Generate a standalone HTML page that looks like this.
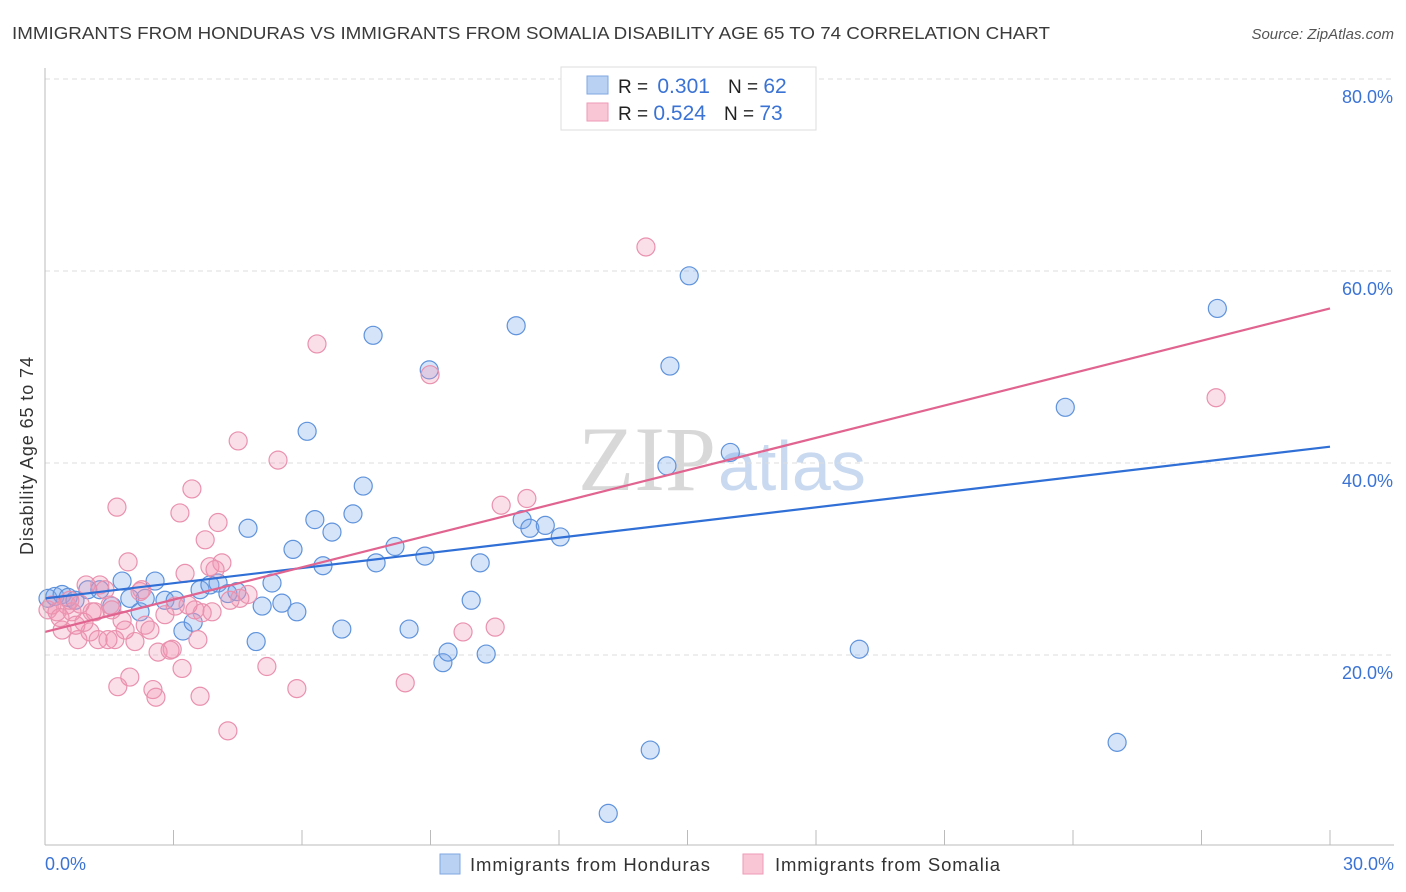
<!DOCTYPE html>
<html><head><meta charset="utf-8"><style>
body{margin:0;background:#fff;font-family:"Liberation Sans",sans-serif;}
#wrap{position:relative;width:1406px;height:892px;overflow:hidden;}
</style></head><body>
<div id="wrap">
<svg id="svg" width="1406" height="892" xmlns="http://www.w3.org/2000/svg">
<text x="12" y="39" font-size="17.5" fill="#3a3a3a" textLength="1038" lengthAdjust="spacingAndGlyphs">IMMIGRANTS FROM HONDURAS VS IMMIGRANTS FROM SOMALIA DISABILITY AGE 65 TO 74 CORRELATION CHART</text>
<text x="1394" y="39" font-size="15" fill="#555" text-anchor="end" font-style="italic">Source: ZipAtlas.com</text>
<text x="716" y="490" font-size="92" fill="#d8d8d8" text-anchor="end" font-family="Liberation Serif,serif">ZIP</text>
<text x="718" y="490" font-size="70" fill="#c9d9f0">atlas</text>
<text x="33" y="456" font-size="18" fill="#333" text-anchor="middle" transform="rotate(-90 33 456)" textLength="198">Disability Age 65 to 74</text>
<g id="grid"></g><g id="pts"></g><g id="lines"></g>
<line x1="45" y1="68" x2="45" y2="845" stroke="#bbb"/>
<line x1="45" y1="845" x2="1394" y2="845" stroke="#bbb"/>
<text x="45" y="870" font-size="18" fill="#3b73d4">0.0%</text>
<text x="1394" y="870" font-size="18" fill="#3b73d4" text-anchor="end">30.0%</text>
<g>
<rect x="561" y="67" width="255" height="63" fill="#fff" stroke="#ddd"/>
<rect x="587" y="76" width="21" height="18" fill="#b9d1f3" stroke="#7fa7e0"/>
<rect x="587" y="103" width="21" height="18" fill="#f9c6d6" stroke="#ee9ab6"/>
<text x="618" y="93" font-size="19" fill="#222">R = <tspan dx="4" fill="#3b73d4" font-size="21">0.301</tspan><tspan dx="18">N = </tspan><tspan fill="#3b73d4" font-size="21">62</tspan></text>
<text x="618" y="120" font-size="19" fill="#222">R = <tspan fill="#3b73d4" font-size="21">0.524</tspan><tspan dx="18">N = </tspan><tspan fill="#3b73d4" font-size="21">73</tspan></text>
</g>
<g>
<rect x="440" y="854" width="20" height="20" fill="#b9d1f3" stroke="#7fa7e0"/>
<text x="470" y="871" font-size="18.5" fill="#333" textLength="240">Immigrants from Honduras</text>
<rect x="743" y="854" width="20" height="20" fill="#f9c6d6" stroke="#ee9ab6"/>
<text x="775" y="871" font-size="18.5" fill="#333" textLength="225">Immigrants from Somalia</text>
</g>
</svg>
</div>
<script>
const blueX=[0.07,0.23,0.40,0.54,0.70,1.0,1.28,1.56,1.80,1.98,2.22,2.34,2.57,2.80,3.04,3.22,3.46,3.62,3.85,4.04,4.27,4.48,4.74,4.93,5.07,5.30,5.53,5.79,5.88,6.12,6.30,6.49,6.70,6.93,7.19,7.43,7.66,7.73,8.17,8.50,8.87,8.97,9.29,9.41,9.95,10.16,10.30,11.0,11.14,11.32,11.68,12.03,13.15,14.13,14.52,14.59,15.04,16.0,19.01,23.82,25.03,27.37];
const blueY=[25.9,26.1,26.3,26.0,25.7,26.8,26.8,25.1,27.7,25.9,24.5,25.9,27.7,25.7,25.7,22.5,23.4,26.8,27.3,27.5,26.4,26.6,33.2,21.4,25.1,27.5,25.4,31.0,24.5,43.3,34.1,29.3,32.8,22.7,34.7,37.6,53.3,29.6,31.3,22.7,30.3,49.7,19.2,20.3,25.7,29.6,20.1,54.3,34.1,33.2,33.5,32.3,3.5,10.1,39.7,50.1,59.5,41.1,20.6,45.8,10.9,56.1];
const pinkX=[0.07,0.16,0.28,0.40,0.51,0.63,0.77,0.82,0.96,1.05,1.17,1.28,1.40,1.52,1.63,1.68,1.70,1.80,1.94,1.98,2.10,2.22,2.34,2.45,2.52,2.59,2.64,2.80,2.97,3.04,3.15,3.20,3.27,3.43,3.50,3.57,3.62,3.67,3.74,3.85,3.90,4.04,4.13,4.27,4.51,4.55,4.74,5.18,5.44,5.88,6.35,8.41,8.99,9.76,10.51,10.65,11.25,14.03,27.34,0.35,0.58,1.24,1.47,2.26,2.92,3.34,3.97,4.32,1.56,1.87,1.10,0.91,0.72];
const pinkY=[24.7,25.2,24.5,22.6,25.2,24.5,21.6,25.3,27.3,22.4,24.5,27.3,26.8,25.2,21.6,35.4,16.7,23.6,29.7,17.7,21.4,26.6,23.1,22.6,16.4,15.6,20.3,24.2,20.6,25.1,34.8,18.6,28.5,37.3,24.7,21.6,15.7,24.4,32.0,29.2,24.5,33.8,29.6,12.1,42.3,25.9,26.3,18.8,40.3,16.5,52.4,17.1,49.2,22.4,22.9,35.6,36.3,62.5,46.8,23.9,25.7,21.6,21.6,26.8,20.5,25.2,28.9,25.7,24.7,22.6,24.5,23.4,23.1];
const blueTrend=[25.9,41.7];
const pinkTrend=[22.4,56.1];
const yTicks=[20,40,60,80];
const yTickLabels=["20.0%","40.0%","60.0%","80.0%"];
const xTicks=[3,6,9,12,15,18,21,24,27,30];
const NS="http://www.w3.org/2000/svg";
function sx(v){return 45+v/30*1285;}
function sy(v){return 847-v*9.6;}
function mk(t,a,p){const e=document.createElementNS(NS,t);for(const k in a)e.setAttribute(k,a[k]);p.appendChild(e);return e;}
const grid=document.getElementById('grid');
yTicks.forEach((v,i)=>{
 const l=mk('line',{x1:45,x2:1394,y1:sy(v),y2:sy(v),stroke:'#ddd','stroke-dasharray':'5,4'},grid);
 
 
 const t=mk('text',{x:1393,y:sy(v)+24,'font-size':18,fill:'#3b73d4','text-anchor':'end'},grid);
 t.textContent=yTickLabels[i];
 
 
});
xTicks.forEach(v=>{
 const l=mk('line',{x1:sx(v),x2:sx(v),y1:830,y2:845,stroke:'#bbb'},grid);
 
 
});
const pts=document.getElementById('pts');
blueX.forEach((x,i)=>{
 const c=mk('circle',{cx:sx(x),cy:sy(blueY[i]),r:9,fill:'rgba(120,165,235,0.3)',stroke:'#5f93dc','stroke-width':1.2},pts);
 
 
});
pinkX.forEach((x,i)=>{
 const c=mk('circle',{cx:sx(x),cy:sy(pinkY[i]),r:9,fill:'rgba(242,150,180,0.3)',stroke:'#e991ae','stroke-width':1.2},pts);
 
 
});
const lines=document.getElementById('lines');
const bl=mk('line',{x1:sx(0),y1:sy(blueTrend[0]),x2:sx(30),y2:sy(blueTrend[1]),stroke:'#2f6fd6','stroke-width':2.2},lines);


const pl=mk('line',{x1:sx(0),y1:sy(pinkTrend[0]),x2:sx(30),y2:sy(pinkTrend[1]),stroke:'#e0648f','stroke-width':2.2},lines);


</script>
</body></html>
